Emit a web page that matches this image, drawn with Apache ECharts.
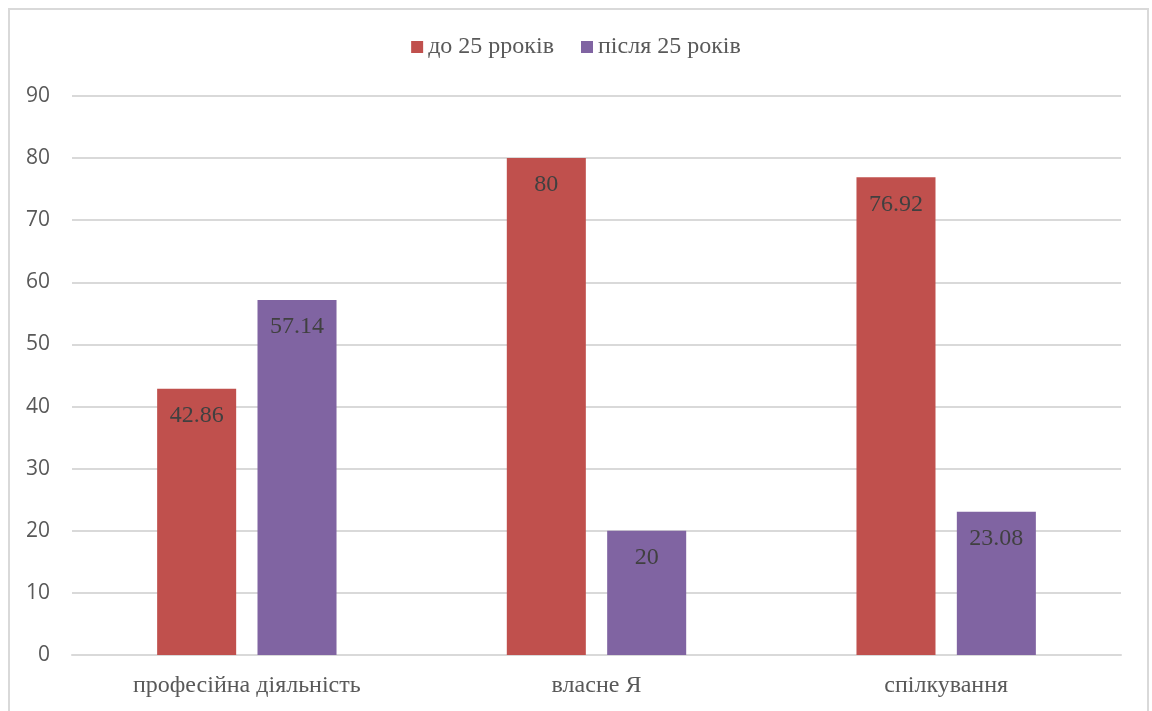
<!DOCTYPE html>
<html>
<head>
<meta charset="utf-8">
<script src="https://cdn.jsdelivr.net/npm/echarts@6/dist/echarts.min.js"></script>
<style>
  html, body { margin: 0; padding: 0; background: #fff; }
  #frame { position: absolute; left: 8px; top: 8px; width: 1141px; height: 720px; border: 2px solid #d9d9d9; box-sizing: border-box; }
  #chart { position: absolute; left: 0; top: 0; width: 1152px; height: 711px; }
</style>
</head>
<body>
<div id="frame"></div>
<div id="chart"></div>
<script>
const categories = ['професійна діяльність', 'власне Я', 'спілкування'];
const seriesNames = ['до 25 рроків', 'після 25 років'];
const under25 = [42.86, 80, 76.92];
const over25 = [57.14, 20, 23.08];
const colors = ['#C0504D', '#8064A2'];

const serif = '"Liberation Serif", "Times New Roman", serif';
const chart = echarts.init(document.getElementById('chart'), null, { renderer: 'canvas' });

const labelStyle = {
  show: true,
  position: 'insideTop',
  distance: 15,
  color: '#404040',
  fontFamily: serif,
  fontSize: 24
};

chart.setOption({
  animation: false,
  color: colors,
  legend: {
    top: 30,
    left: 'center',
    itemWidth: 12,
    itemHeight: 12,
    itemGap: 27,
    icon: 'rect',
    textStyle: { fontFamily: serif, fontSize: 24, color: '#595959' },
    data: seriesNames
  },
  grid: { left: 72, right: 31, top: 96, bottom: 56, containLabel: false },
  xAxis: {
    type: 'category',
    data: categories,
    axisTick: { show: false },
    axisLine: { lineStyle: { color: '#d9d9d9', width: 2 } },
    axisLabel: { fontFamily: serif, fontSize: 24, color: '#595959', margin: 19 }
  },
  yAxis: {
    type: 'value',
    min: 0,
    max: 90,
    interval: 10,
    axisLine: { show: false },
    axisTick: { show: false },
    splitLine: { lineStyle: { color: '#d9d9d9', width: 2 } },
    axisLabel: { fontFamily: '"Open Sans", "DejaVu Sans", sans-serif', fontSize: 21, color: '#595959', margin: 22 }
  },
  series: [
    { name: seriesNames[0], type: 'bar', data: under25, barWidth: '22.6%', barGap: '27%', label: labelStyle },
    { name: seriesNames[1], type: 'bar', data: over25, barWidth: '22.6%', barGap: '27%', label: labelStyle }
  ]
});
</script>
</body>
</html>
